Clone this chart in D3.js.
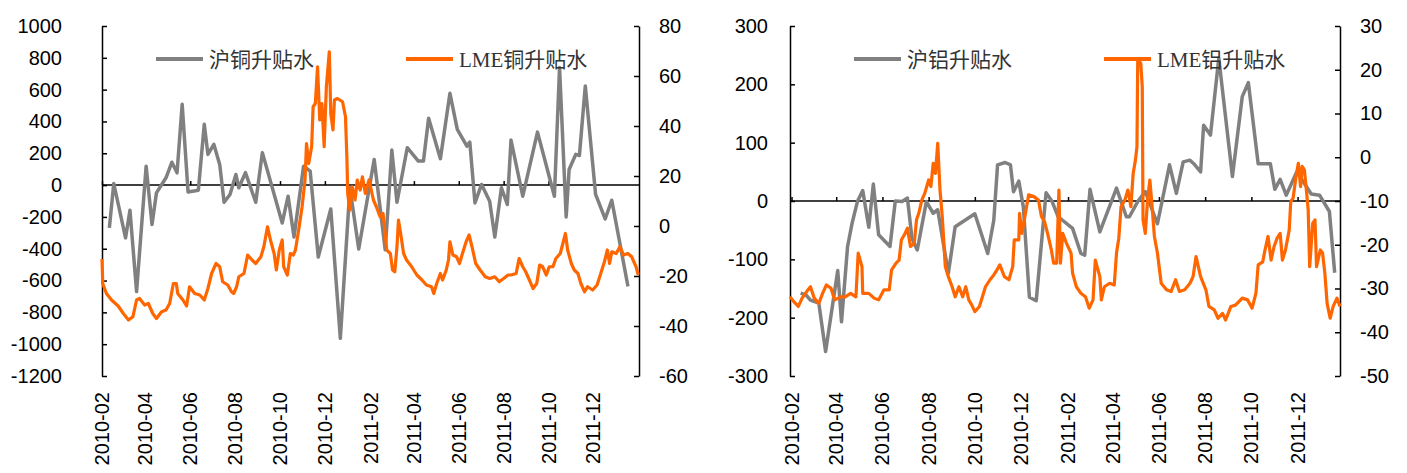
<!DOCTYPE html>
<html>
<head>
<meta charset="utf-8">
<script src="https://cdn.jsdelivr.net/npm/d3@7"></script>
<style>
  body { margin: 0; background: #fff; }
  .tick text { font-family: "Liberation Sans", Arial, sans-serif; font-size: 20px; fill: #000; }
</style>
</head>
<body>
<div id="chart"></div>
<script>
// month labels on the date axis
var monthLabels = ["2010-02","2010-04","2010-06","2010-08","2010-10","2010-12",
                   "2011-02","2011-04","2011-06","2011-08","2011-10","2011-12"];

// axis ticks
var cuLeftTicks  = [1000,800,600,400,200,0,-200,-400,-600,-800,-1000,-1200];
var cuRightTicks = [80,60,40,20,0,-20,-40,-60];
var alLeftTicks  = [300,200,100,0,-100,-200,-300];
var alRightTicks = [30,20,10,0,-10,-20,-30,-40,-50];

// 沪铜升贴水 (days after 2010-02-01, value)
var shCuDay = [10,16,32,38,47,60,68,74,87,95,102,109,117,131,139,144,152,160,166,174,182,186,195,209,218,
  245,253,261,274,283,294,311,324,337,349,370,385,394,401,415,430,437,444,460,473,483,496,500,507,516,527,
  534,543,551,556,572,592,603,615,622,631,635,644,649,657,671,684,693,715];
var shCuVal = [-269,10,-332,-158,-669,119,-248,-49,46,144,77,508,-43,-32,382,193,256,130,-108,-59,67,-17,78,-108,204,
  -238,-70,-326,119,88,-452,-150,-963,-17,-402,161,-406,220,-108,235,151,151,420,166,577,350,245,270,-112,4,-101,
  -326,-17,-122,283,-70,333,140,-70,739,-200,98,193,186,623,-59,-213,-95,-637];

// LME铜升贴水
var lmeCuDay = [0,1,6,13,22,29,36,42,47,51,58,63,69,74,81,87,92,97,101,103,110,115,119,126,133,139,144,149,155,160,
  164,171,176,179,183,186,193,198,204,209,216,220,225,229,234,237,241,245,247,252,256,260,263,268,272,276,278,281,
  285,287,290,293,296,299,302,305,309,311,314,316,320,327,331,333,334,337,340,344,347,351,354,358,363,369,373,378,
  382,385,387,392,395,398,401,403,406,410,414,421,428,435,441,448,451,455,460,463,468,471,473,477,482,486,490,495,
  499,503,508,514,521,527,534,540,546,552,556,563,567,572,576,581,586,591,595,599,604,608,613,617,623,630,633,638,
  642,647,651,656,660,667,673,678,683,687,690,693,699,704,709,715,720,726,729];
var lmeCuVal = [-13.2,-23,-27,-29.6,-32,-35,-37.6,-36.3,-29.6,-29,-31.6,-31,-35,-37,-34.3,-33.6,-31,-23,-23,-27,-29.6,
  -32,-24.3,-27,-27.6,-29.6,-25,-19,-15,-16.3,-22.3,-23.6,-26.3,-27,-24.3,-20.3,-19,-11.6,-13.6,-15,-12.3,-8.3,-0.3,
  -5.6,-11,-17.6,-9.6,-5.6,-16.3,-19.6,-11,-11.6,-9.6,-0.3,7.7,18.4,33,25,31.7,47.7,49,63.7,42.4,49,31.7,55.7,69.7,
  45,38.4,50.4,51,49.7,43.7,26.4,13,6.4,15.7,10.4,18.4,14.4,19.7,13,18.4,10.4,7.7,3.7,5,-3,-9.6,-11,-17.6,-18.3,
  -8.3,2.4,-3,-11,-13.6,-16.3,-19.6,-21.6,-23.6,-24.3,-27,-23,-19,-21.6,-17.6,-13.6,-6.3,-11.6,-12.3,-15,-11,-6.3,
  -3.6,-8.3,-15,-17.6,-20.3,-21,-20.3,-22.3,-21,-19.6,-19.6,-19,-13,-16.3,-18.3,-21.6,-25,-23,-15.6,-16.3,-19.6,
  -16.3,-16.3,-13,-11,-3,-9.6,-15,-17.6,-19,-23,-26.3,-24.3,-25.6,-23.6,-19,-14.3,-9.6,-15,-10.3,-11,-8.3,-11.6,
  -11,-12.3,-16.3,-19.6];

// 沪铝升贴水
var shAlDay = [12,19,25,36,45,61,66,74,80,87,94,102,108,115,130,137,146,153,159,166,178,187,193,207,216,242,259,267,
  272,282,289,293,300,306,314,323,336,344,352,371,382,387,394,407,429,442,446,457,467,483,499,508,517,526,531,540,
  544,553,564,582,595,603,616,632,638,645,653,667,686,697,710,717];
var shAlVal = [-158,-161,-170,-175,-258,-119,-207,-78,-38,-1,18,-45,29,-58,-78,0,-1,5,-64,-84,-1,-21,-15,-124,-44,-22,
  -90,-33,62,66,62,16,34,-10,-165,-171,14,-1,-27,-47,-90,-93,20,-53,22,-27,-27,-1,16,-39,62,13,67,70,64,50,130,113,
  245,42,179,203,64,64,20,37,10,50,12,10,-18,-123];

// LME铝升贴水
var lmeAlDay = [-2,3,9,14,20,25,30,36,41,46,52,57,65,71,78,85,88,93,94,102,109,115,122,129,132,138,142,145,150,153,
  157,162,165,168,172,176,181,184,187,190,193,196,199,203,207,212,216,221,226,230,234,238,242,248,252,256,262,267,
  271,275,281,287,292,294,300,301,304,308,313,320,326,330,334,338,343,346,350,353,355,358,363,369,371,376,382,388,
  393,398,401,407,409,413,420,426,429,432,435,440,444,448,451,454,456,457,461,463,464,467,470,473,476,479,483,488,
  495,501,507,512,519,526,530,534,540,547,551,558,563,569,573,580,586,595,602,608,613,616,622,625,629,633,637,641,
  645,648,652,657,659,662,666,669,672,674,677,680,682,684,688,691,693,698,701,704,707,711,715,720,724];
var lmeAlVal = [-31.9,-33,-34.1,-32.2,-30.7,-29.6,-32.2,-33.4,-31.1,-29.2,-29.9,-32.6,-31.9,-31.9,-31.1,-31.9,-21.9,
  -25,-31.1,-31.1,-32.2,-32.6,-30.3,-30.3,-25.8,-24.2,-23.5,-18.9,-17.4,-16.2,-20.4,-19.7,-14.3,-12.8,-9.8,-8.2,
  -5.2,-6.7,-1.4,-3.7,3.2,-7.5,-13.6,-25,-27.3,-29.6,-31.9,-29.6,-31.9,-29.6,-32.6,-33.8,-35.3,-34.1,-31.9,-29.6,
  -28,-26.9,-25.8,-24.6,-27.3,-28,-25,-18.9,-18.9,-12.8,-17.4,-13.6,-8.6,-9,-9.8,-13.6,-14.7,-17.4,-21.2,-24.2,
  -24.2,-7.5,-24.2,-17.4,-19.7,-21.9,-26.5,-29.6,-31.1,-31.9,-34.5,-32.6,-23.5,-27.3,-32.6,-29.6,-28.8,-29.2,-21.9,
  -18.5,-11.3,-9.8,-7.5,-11.3,-3.7,-0.6,2.4,22.2,21.5,16.1,-14.3,-17.4,-9.8,-5.2,-11.3,-18.1,-21.9,-28.8,-30.3,
  -30.7,-28,-30.7,-30.3,-28.8,-27.3,-22.7,-27.3,-30.3,-34.1,-34.9,-36.8,-35.7,-37.2,-34.1,-33.8,-32.2,-32.6,-34.5,
  -31.1,-24.6,-23.9,-21.2,-18.1,-23.5,-20.4,-18.5,-17.4,-23.5,-21.2,-16.6,-10.1,-9.4,-4.4,-1.4,-6.7,-2.1,-2.9,-8.2,
  -12,-25,-15.1,-14.3,-25,-21.2,-21.9,-26.5,-33.4,-36.8,-34.1,-32.2,-34.1];

var W = 1407, H = 473;
var start = new Date(2010, 1, 1);
var parseMonth = d3.timeParse("%Y-%m");
function toDate(d) { return d3.timeDay.offset(start, d); }
function zip(days, vals) { return days.map(function(d, i) { return {date: toDate(d), v: vals[i]}; }); }
function plain(d) { return String(d); }   // keeps the ascii minus and no thousands comma

var svg = d3.select("#chart").append("svg").attr("width", W).attr("height", H);

function drawPanel(p) {
  var g = svg.append("g");
  var x = d3.scaleTime().domain(p.xDomain).range([p.left, p.right]);
  var yL = d3.scaleLinear().domain([p.leftTicks[p.leftTicks.length - 1], p.leftTicks[0]]).range([p.bottom, p.top]);
  var yR = d3.scaleLinear().domain([p.rightTicks[p.rightTicks.length - 1], p.rightTicks[0]]).range([p.bottom, p.top]);
  var tickDates = monthLabels.map(parseMonth);

  // zero line with month ticks
  var xAx = g.append("g").attr("transform", "translate(0," + yL(0) + ")")
    .call(d3.axisTop(x).tickValues(tickDates).tickSizeInner(4).tickSizeOuter(0).tickFormat(""));
  xAx.select(".domain").remove();
  xAx.selectAll("line").attr("stroke-width", 1.5);
  g.append("line").attr("x1", p.left).attr("x2", p.right).attr("y1", yL(0)).attr("y2", yL(0))
    .attr("stroke", "#000").attr("stroke-width", 1.5);

  // month labels at the bottom
  g.selectAll(".mlab").data(tickDates).enter().append("text")
    .attr("transform", function(d) { return "translate(" + x(d) + "," + (p.bottom + 16) + ") rotate(-90)"; })
    .attr("text-anchor", "end").attr("dy", "0.35em")
    .style("font-family", "Liberation Sans, Arial, sans-serif").style("font-size", "20px")
    .text(d3.timeFormat("%Y-%m"));

  // value axes
  var la = g.append("g").attr("transform", "translate(" + p.left + ",0)")
    .call(d3.axisLeft(yL).tickValues(p.leftTicks).tickFormat(plain).tickSizeInner(-5).tickSizeOuter(0).tickPadding(p.padL));
  var ra = g.append("g").attr("transform", "translate(" + p.right + ",0)")
    .call(d3.axisRight(yR).tickValues(p.rightTicks).tickFormat(plain).tickSizeInner(-5).tickSizeOuter(0).tickPadding(20));
  [la, ra].forEach(function(a) {
    a.selectAll("path,line").attr("stroke", "#000").attr("stroke-width", 1.5);
  });

  var lineL = d3.line().x(function(d) { return x(d.date); }).y(function(d) { return yL(d.v); });
  var lineR = d3.line().x(function(d) { return x(d.date); }).y(function(d) { return yR(d.v); });

  g.append("path").datum(p.gray).attr("d", lineL).attr("fill", "none")
    .attr("stroke", "#808080").attr("stroke-width", 3.5).attr("stroke-linejoin", "round");
  g.append("path").datum(p.orange).attr("d", lineR).attr("fill", "none")
    .attr("stroke", "#FF6600").attr("stroke-width", 3.2).attr("stroke-linejoin", "round");

  // legend
  var items = [{x: p.legGray, c: "#808080", t: p.grayName}, {x: p.legOrange, c: "#FF6600", t: p.orangeName}];
  items.forEach(function(it) {
    g.append("line").attr("x1", it.x).attr("x2", it.x + 47).attr("y1", 59).attr("y2", 59)
      .attr("stroke", it.c).attr("stroke-width", 4);
    g.append("text").attr("x", it.x + 53).attr("y", 59).attr("dy", "0.36em")
      .style("font-family", "Liberation Serif, Noto Sans CJK SC, serif").style("font-size", "21px")
      .attr("fill", "#333").text(it.t);
  });
}

drawPanel({
  left: 102, right: 639, top: 26, bottom: 376, padL: 40,
  xDomain: [toDate(0), toDate(730)],
  leftTicks: cuLeftTicks, rightTicks: cuRightTicks,
  gray: zip(shCuDay, shCuVal), orange: zip(lmeCuDay, lmeCuVal),
  grayName: "沪铜升贴水", orangeName: "LME铜升贴水",
  legGray: 156, legOrange: 406
});

drawPanel({
  left: 790, right: 1340, top: 26, bottom: 376, padL: 22,
  xDomain: [toDate(-2), toDate(724)],
  leftTicks: alLeftTicks, rightTicks: alRightTicks,
  gray: zip(shAlDay, shAlVal), orange: zip(lmeAlDay, lmeAlVal),
  grayName: "沪铝升贴水", orangeName: "LME铝升贴水",
  legGray: 854, legOrange: 1104
});
</script>
</body>
</html>
